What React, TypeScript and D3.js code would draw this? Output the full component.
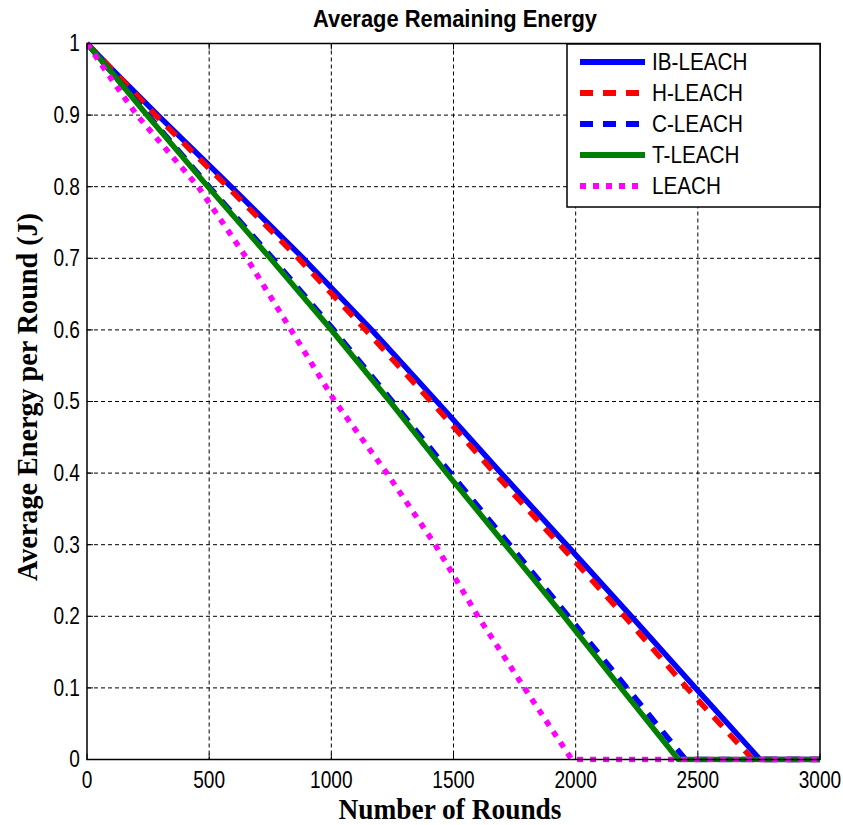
import React from "react";
import * as d3 from "d3";

// data
const ibRounds = [0, 100, 290, 590, 885, 1165, 1432, 1695, 1962, 2228, 2490, 2755, 3000];
const ibEnergy = [1, 0.965, 0.9, 0.8, 0.7, 0.6, 0.5, 0.4, 0.3, 0.2, 0.1, 0, 0];

const hRounds = [0, 100, 280, 575, 865, 1140, 1408, 1668, 1935, 2200, 2455, 2725, 3000];
const hEnergy = [1, 0.965, 0.9, 0.8, 0.7, 0.6, 0.5, 0.4, 0.3, 0.2, 0.1, 0, 0];

const cRounds = [0, 100, 250, 500, 760, 1010, 1250, 1488, 1730, 1970, 2210, 2450, 3000];
const cEnergy = [1, 0.96, 0.9, 0.8, 0.7, 0.6, 0.5, 0.4, 0.3, 0.2, 0.1, 0, 0];

const tRounds = [0, 100, 245, 495, 750, 1000, 1240, 1472, 1712, 1952, 2185, 2420, 3000];
const tEnergy = [1, 0.96, 0.9, 0.8, 0.7, 0.6, 0.5, 0.4, 0.3, 0.2, 0.1, 0, 0];

const leachRounds = [0, 80, 204, 455, 654, 835, 1015, 1227, 1425, 1600, 1790, 1984, 3000];
const leachEnergy = [1, 0.96, 0.9, 0.8, 0.7, 0.6, 0.5, 0.4, 0.3, 0.2, 0.1, 0, 0];

const xTicks = [0, 500, 1000, 1500, 2000, 2500, 3000];
const yTicks = [0, 0.1, 0.2, 0.3, 0.4, 0.5, 0.6, 0.7, 0.8, 0.9, 1];

const series = [
  { name: "IB-LEACH", rounds: ibRounds, energy: ibEnergy, color: "#0000ff", dash: null },
  { name: "H-LEACH", rounds: hRounds, energy: hEnergy, color: "#ff0000", dash: "13,10" },
  { name: "C-LEACH", rounds: cRounds, energy: cEnergy, color: "#0000ff", dash: "13,10" },
  { name: "T-LEACH", rounds: tRounds, energy: tEnergy, color: "#008000", dash: null },
  { name: "LEACH", rounds: leachRounds, energy: leachEnergy, color: "#ff00ff", dash: "6,7" },
];

const W = 843;
const H = 825;
const left = 87;
const right = 820;
const top = 43.5;
const bottom = 759.5;

export default function App() {
  const x = d3.scaleLinear().domain([0, 3000]).range([left, right]);
  const y = d3.scaleLinear().domain([0, 1]).range([bottom, top]);
  const line = d3
    .line<[number, number]>()
    .x((d) => x(d[0]))
    .y((d) => y(d[1]));

  const tickLen = 6;
  const sans = "Arial, 'Liberation Sans', sans-serif";
  const serif = "'Times New Roman', 'Liberation Serif', serif";
  const tickFont = 23;
  const sx = 0.83; // labels in the reference are a narrow face

  // legend placement
  const lgX = 567;
  const lgY = 44;
  const lgW = right - lgX;
  const lgH = 163;
  const rowGap = 31;

  return (
    <svg
      width={W}
      height={H}
      style={{ position: "absolute", left: 0, top: 0, background: "#fff" }}
    >
      <rect x={0} y={0} width={W} height={H} fill="#fff" />

      {/* grid */}
      {xTicks.slice(1, -1).map((t) => (
        <line
          key={"gx" + t}
          x1={x(t)}
          x2={x(t)}
          y1={top}
          y2={bottom}
          stroke="#000"
          strokeWidth={1}
          strokeDasharray="4,3"
        />
      ))}
      {yTicks.slice(1, -1).map((t) => (
        <line
          key={"gy" + t}
          x1={left}
          x2={right}
          y1={y(t)}
          y2={y(t)}
          stroke="#000"
          strokeWidth={1}
          strokeDasharray="4,3"
        />
      ))}

      {/* series */}
      <defs>
        <clipPath id="plotClip">
          <rect x={left} y={top - 3} width={right - left + 3} height={bottom - top + 6} />
        </clipPath>
      </defs>
      <g clipPath="url(#plotClip)">
        {series.map((s) => (
          <path
            key={s.name}
            d={line(s.rounds.map((r, i) => [r, s.energy[i]] as [number, number])) || ""}
            fill="none"
            stroke={s.color}
            strokeWidth={5.5}
            strokeLinejoin="round"
            strokeDasharray={s.dash || undefined}
          />
        ))}
      </g>

      {/* axes box */}
      <rect
        x={left}
        y={top}
        width={right - left}
        height={bottom - top}
        fill="none"
        stroke="#000"
        strokeWidth={1.5}
      />

      {/* ticks */}
      {xTicks.map((t) => (
        <g key={"xt" + t}>
          <line x1={x(t)} x2={x(t)} y1={bottom} y2={bottom - tickLen} stroke="#000" />
          <line x1={x(t)} x2={x(t)} y1={top} y2={top + tickLen} stroke="#000" />
          <text
            x={x(t)}
            y={bottom + 29}
            textAnchor="middle"
            fontFamily={sans}
            fontSize={tickFont}
            fill="#000"
            transform={`translate(${x(t) * (1 - sx)},0) scale(${sx},1)`}
          >
            {t}
          </text>
        </g>
      ))}
      {yTicks.map((t) => (
        <g key={"yt" + t}>
          <line x1={left} x2={left + tickLen} y1={y(t)} y2={y(t)} stroke="#000" />
          <line x1={right} x2={right - tickLen} y1={y(t)} y2={y(t)} stroke="#000" />
          <text
            x={left - 7}
            y={y(t) + 8}
            textAnchor="end"
            fontFamily={sans}
            fontSize={tickFont}
            fill="#000"
            transform={`translate(${(left - 7) * (1 - sx)},0) scale(${sx},1)`}
          >
            {d3.format("~g")(t)}
          </text>
        </g>
      ))}

      {/* title and labels */}
      <text
        x={455}
        y={27}
        textAnchor="middle"
        fontFamily={sans}
        fontWeight="bold"
        fontSize={23}
        textLength={284}
        lengthAdjust="spacingAndGlyphs"
      >
        Average Remaining Energy
      </text>
      <text
        x={450}
        y={819}
        textAnchor="middle"
        fontFamily={serif}
        fontWeight="bold"
        fontSize={29}
        textLength={223}
        lengthAdjust="spacingAndGlyphs"
      >
        Number of Rounds
      </text>
      <text
        transform={`translate(37,397) rotate(-90)`}
        textAnchor="middle"
        fontFamily={serif}
        fontWeight="bold"
        fontSize={29}
        textLength={368}
        lengthAdjust="spacingAndGlyphs"
      >
        Average Energy per Round (J)
      </text>

      {/* legend */}
      <rect x={lgX} y={lgY} width={lgW} height={lgH} fill="#fff" stroke="#000" strokeWidth={1.5} />
      {series.map((s, i) => {
        const cy = lgY + 18 + i * rowGap;
        return (
          <g key={"lg" + s.name}>
            <line
              x1={580}
              x2={645}
              y1={cy}
              y2={cy}
              stroke={s.color}
              strokeWidth={6}
              strokeDasharray={s.dash || undefined}
            />
            <text
              x={652}
              y={cy + 8.5}
              fontFamily={sans}
              fontSize={23}
              fill="#000"
              transform={`translate(${652 * 0.1},0) scale(0.9,1)`}
            >
              {s.name}
            </text>
          </g>
        );
      })}
    </svg>
  );
}
